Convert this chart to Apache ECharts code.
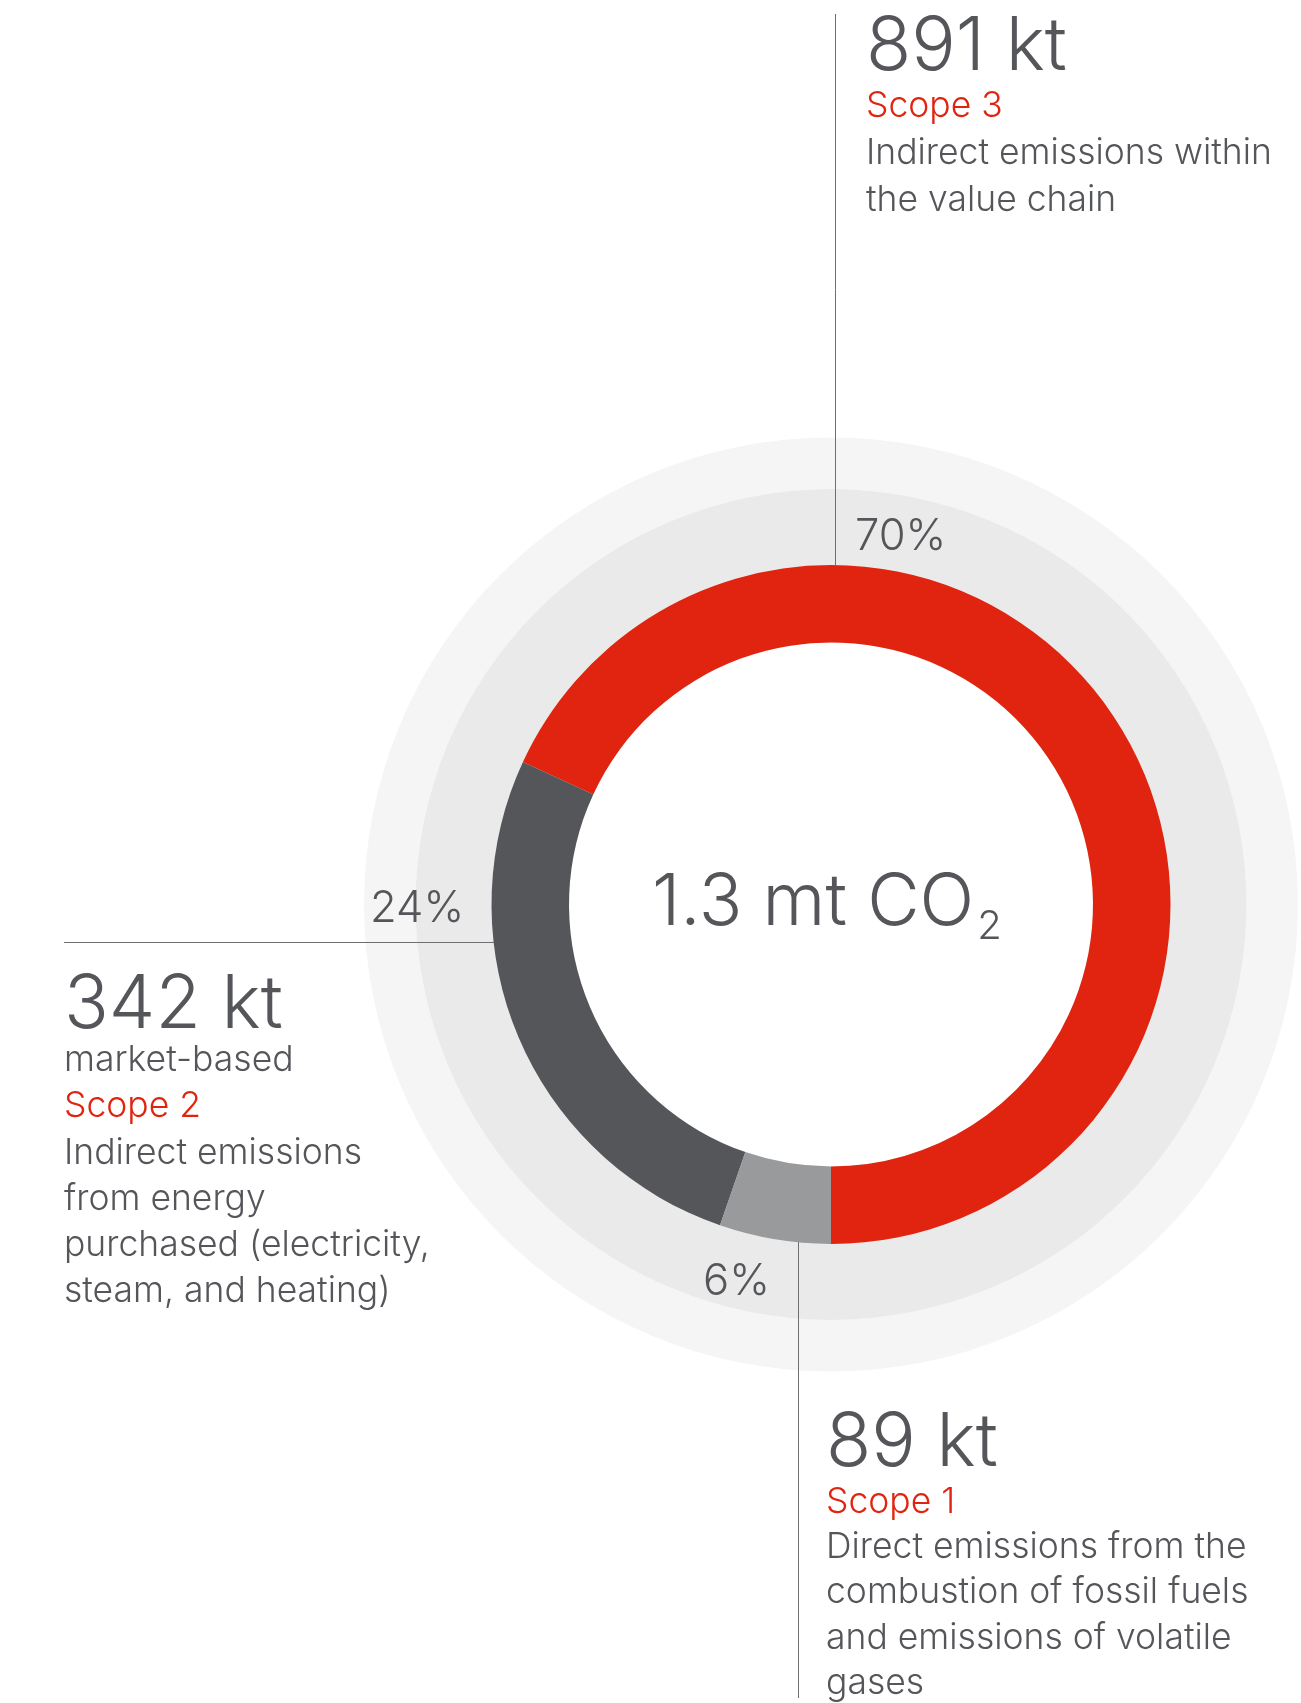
<!DOCTYPE html>
<html><head><meta charset="utf-8">
<script src="https://cdn.jsdelivr.net/npm/echarts/dist/echarts.min.js"></script>
<style>html,body{margin:0;padding:0;background:#fff}#c{width:1301px;height:1703px}</style>
</head><body><div id="c"></div>
<script>
// ---- data ----
const scopes = ['Scope 3', 'Scope 2', 'Scope 1'];
const sliceShares = [68.1, 26.6, 5.3];          // shares
const ktLabels = ['891 kt', '342 kt', '89 kt'];
const pctLabels = ['70%', '24%', '6%'];
const subLabels = ['', 'market-based', ''];
const descriptions = [
  ['Indirect emissions within', 'the value chain'],
  ['Indirect emissions', 'from energy', 'purchased (electricity,', 'steam, and heating)'],
  ['Direct emissions from the', 'combustion of fossil fuels', 'and emissions of volatile', 'gases']
];
const totalLabel = '1.3 mt CO';
const totalSub = '2';

// ---- style ----
const FONT = 'Inter, Lato, sans-serif';
const W = 300;
const GREY = '#55565A';
const RED = '#E1240F';
const LINE = '#6E6F72';
const sliceColors = [RED, '#55565A', '#999A9C'];
const CX = 831, CY = 904.5;

function block(i, x, top, bigLH, lh) {
  const lines = ['{big|' + ktLabels[i] + '}'];
  if (subLabels[i]) lines.push('{body|' + subLabels[i] + '}');
  lines.push('{red|' + scopes[i] + '}');
  descriptions[i].forEach(d => lines.push('{body|' + d + '}'));
  return {
    type: 'text', x: x, y: top, silent: true, z: 10,
    style: {
      text: lines.join('\n'), verticalAlign: 'top', align: 'left',
      rich: {
        big: { fontFamily: FONT, fontWeight: W, fontSize: 74, lineHeight: bigLH, fill: GREY },
        red: { fontFamily: FONT, fontWeight: W, fontSize: 35.5, lineHeight: lh, fill: RED },
        body: { fontFamily: FONT, fontWeight: W, fontSize: 35.5, lineHeight: lh, fill: GREY }
      }
    }
  };
}
function pct(i, x, y) {
  return { type: 'text', x: x, y: y, silent: true, z: 10,
    style: { text: pctLabels[i], fontFamily: FONT, fontWeight: W, fontSize: 43.5, fill: GREY, verticalAlign: 'middle', align: 'left' } };
}
function leader(x1, y1, x2, y2) {
  return { type: 'line', silent: true, z: 10, shape: { x1, y1, x2, y2 }, style: { stroke: LINE, lineWidth: 1 } };
}

const chart = echarts.init(document.getElementById('c'), null, { renderer: 'canvas' });
chart.setOption({
  backgroundColor: '#ffffff',
  animation: false,
  series: [
    { type: 'pie', silent: true, center: [CX, CY], radius: [262, 339.5], startAngle: 270, clockwise: false,
      label: { show: false }, labelLine: { show: false }, z: 2, emphasis: { disabled: true },
      data: scopes.map((s, i) => ({ name: s, value: sliceShares[i], itemStyle: { color: sliceColors[i], borderWidth: 0 } })) }
  ],
  graphic: [
    { type: 'ring', silent: true, z: 0, shape: { cx: CX, cy: CY, r: 467, r0: 415.5 }, style: { fill: '#F4F5F4' } },
    { type: 'ring', silent: true, z: 0, shape: { cx: CX, cy: CY, r: 415.5, r0: 262 }, style: { fill: '#E9EAE9' } },
    leader(835.5, 14, 835.5, 565),
    leader(64, 942.5, 494, 942.5),
    leader(798.5, 1242, 798.5, 1698),
    pct(0, 855, 536.5),
    pct(1, 370, 909),
    pct(2, 703, 1282),
    { type: 'text', x: 652, y: 907, silent: true, z: 10,
      style: { text: '{a|' + totalLabel + '}{b|' + totalSub + '}', verticalAlign: 'middle', align: 'left',
        rich: { a: { fontFamily: FONT, fontWeight: W, fontSize: 72, lineHeight: 79, fill: GREY, verticalAlign: 'top' },
                b: { fontFamily: FONT, fontWeight: W, fontSize: 40, lineHeight: 40, fill: GREY, verticalAlign: 'bottom', padding: [0, 0, 0, 3] } } } },
    block(0, 866, 13, 70, 47),
    block(1, 64, 973, 64.5, 46.2),
    block(2, 826, 1408.75, 70.5, 45.4)
  ]
});
</script></body></html>
